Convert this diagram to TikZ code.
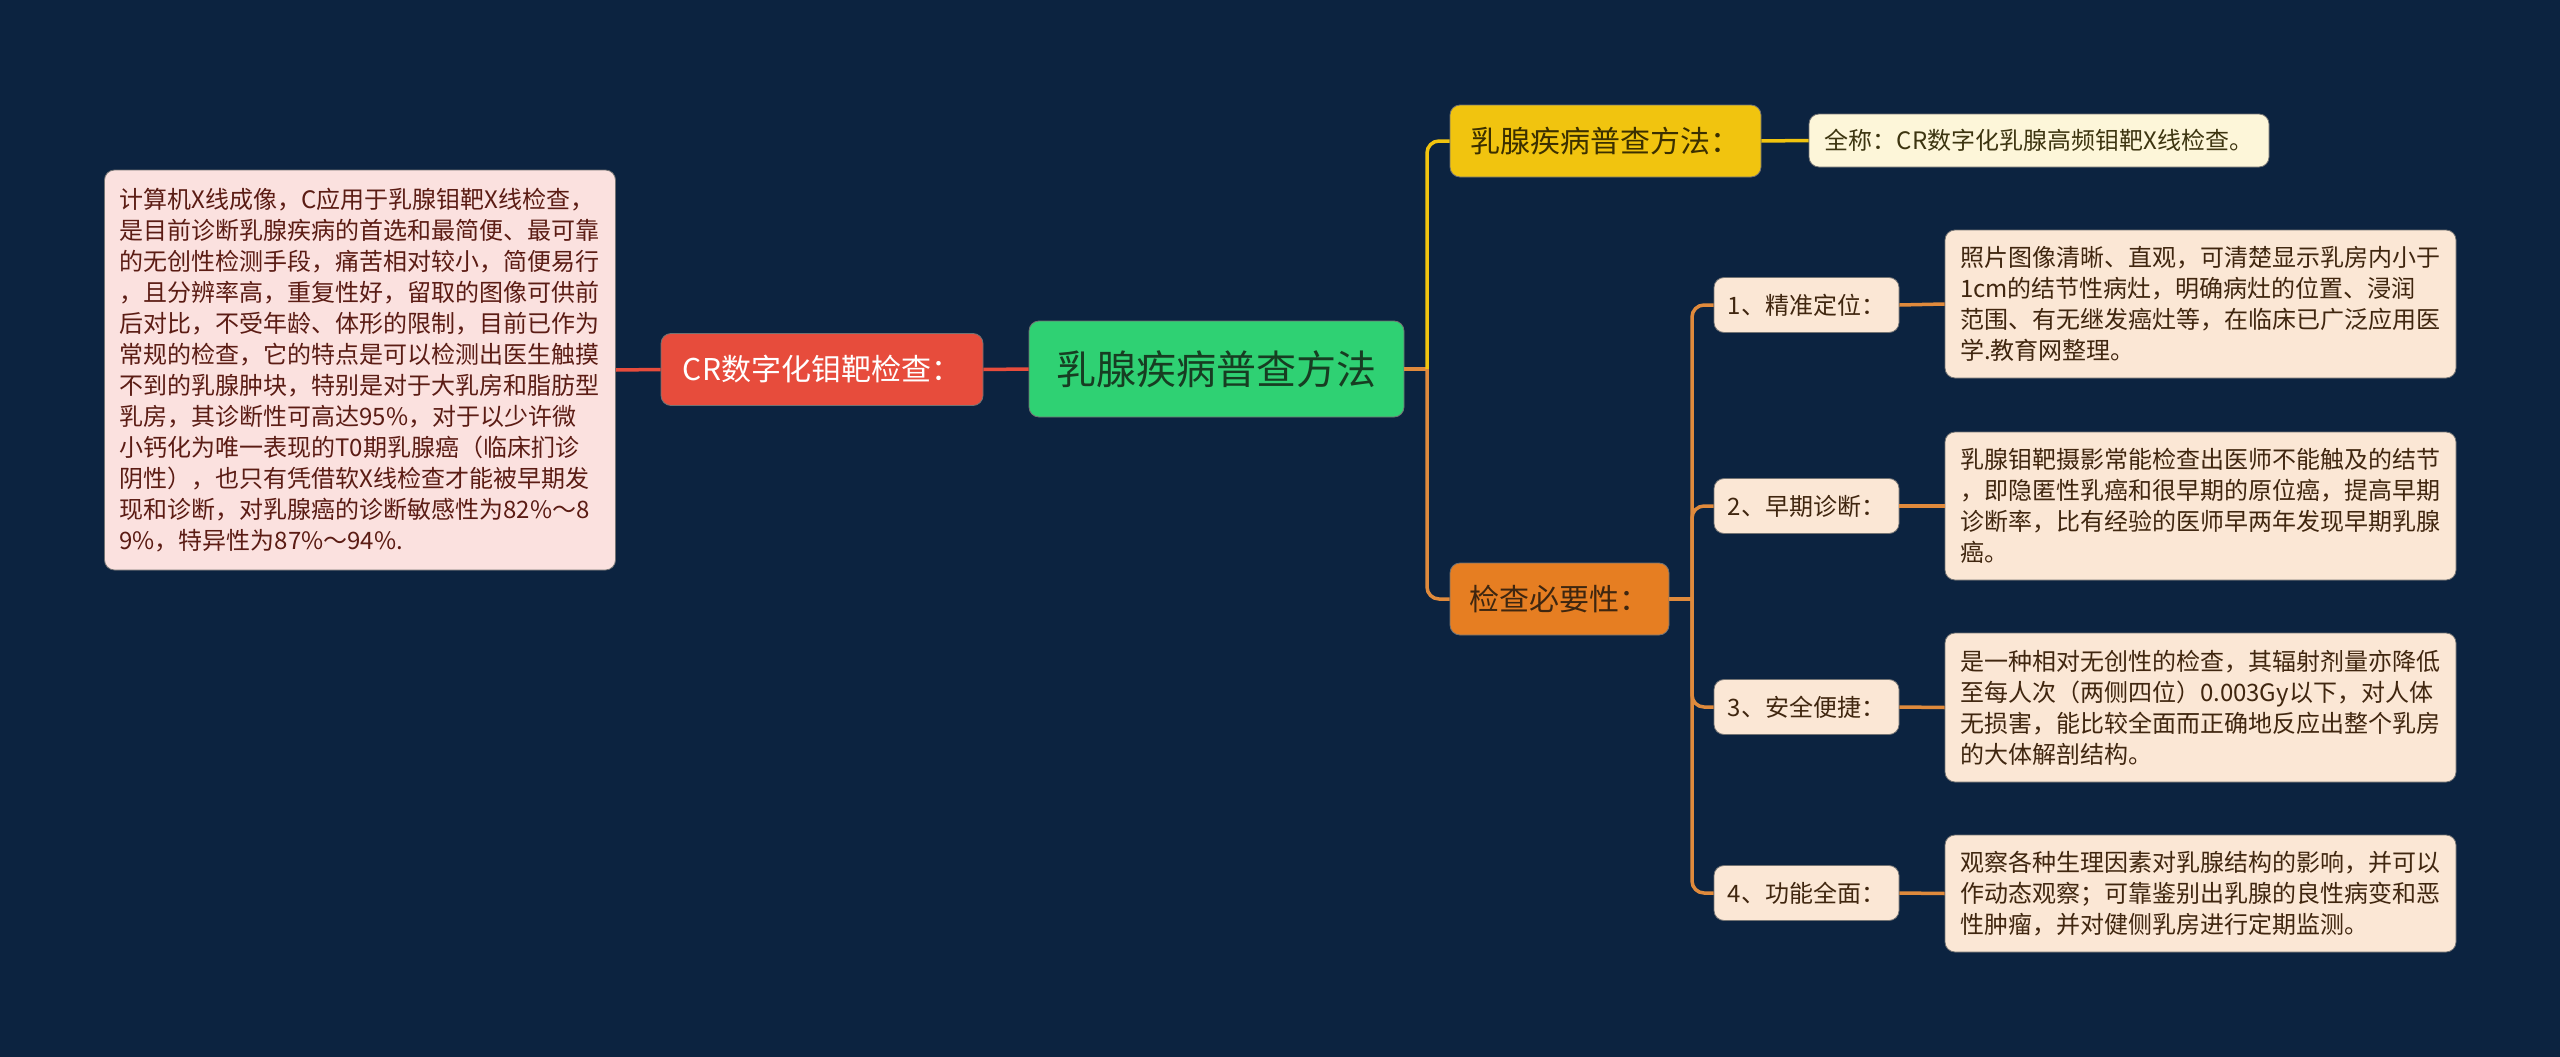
\documentclass[tikz,border=0pt]{standalone}
\usepackage{fontspec}
\setmainfont{Noto Sans CJK SC}
\usetikzlibrary{positioning}
\definecolor{bgnavy}{HTML}{0C2340}
\definecolor{rootgreen}{HTML}{2FD173}
\definecolor{roottext}{HTML}{173D22}
\definecolor{crred}{HTML}{E74C3C}
\definecolor{yelgold}{HTML}{F1C40F}
\definecolor{yeltext}{HTML}{3B2F00}
\definecolor{chkorange}{HTML}{E67E22}
\definecolor{chktext}{HTML}{3E2610}
\definecolor{pinkfill}{HTML}{FBE1DF}
\definecolor{pinktext}{HTML}{5B1C14}
\definecolor{cream}{HTML}{FDF6D9}
\definecolor{creamtext}{HTML}{3D3510}
\definecolor{peach}{HTML}{FBE7D5}
\definecolor{peachtext}{HTML}{40260F}
\definecolor{orangeline}{HTML}{E08A3C}

\begin{document}
\begin{tikzpicture}[x=1pt, y=-1pt,
    box/.style={rounded corners=10pt, draw=black!55, line width=0.8pt, align=center, inner sep=0pt},
    root/.style={box, fill=rootgreen, text=roottext, font=\fontsize{40}{48}\selectfont,
                 minimum width=375pt, minimum height=96pt},
    main/.style={box, font=\fontsize{30}{36}\selectfont, minimum height=72pt},
    item/.style={box, fill=peach, text=peachtext, font=\fontsize{24}{31}\selectfont,
                 minimum width=185pt, minimum height=55pt},
    note/.style={box, font=\fontsize{24}{31}\selectfont, text width=481pt, align=left, inner xsep=15pt},
    link/.style={line width=3.5pt, rounded corners=12pt},
]
    \fill[bgnavy] (0,0) rectangle (2560,1057);
    \useasboundingbox (0,0) rectangle (2560,1057);

    \node[root] (root) at (1216.5,369) {乳腺疾病普查方法};

    \node[main, fill=crred, text=white, minimum width=322pt] (cr) at (822,369.5) {CR数字化钼靶检查：};
    \node[note, fill=pinkfill, text=pinktext, minimum height=400pt] (crnote) at (360,370) {%
        计算机X线成像，C应用于乳腺钼靶X线检查，\\
        是目前诊断乳腺疾病的首选和最简便、最可靠\\
        的无创性检测手段，痛苦相对较小，简便易行\\
        ，且分辨率高，重复性好，留取的图像可供前\\
        后对比，不受年龄、体形的限制，目前已作为\\
        常规的检查，它的特点是可以检测出医生触摸\\
        不到的乳腺肿块，特别是对于大乳房和脂肪型\\
        乳房，其诊断性可高达95\%，对于以少许微\\
        小钙化为唯一表现的T0期乳腺癌（临床扪诊\\
        阴性），也只有凭借软X线检查才能被早期发\\
        现和诊断，对乳腺癌的诊断敏感性为82\%～8\\
        9\%，特异性为87\%～94\%.};

    \node[main, fill=yelgold, text=yeltext, minimum width=311pt] (way) at (1605.5,141) {乳腺疾病普查方法：};
    \node[box, fill=cream, text=creamtext, font=\fontsize{24}{31}\selectfont,
          minimum width=460pt, minimum height=53pt] (wayfull) at (2039,140.5) {全称：CR数字化乳腺高频钼靶X线检查。};

    \node[main, fill=chkorange, text=chktext, minimum width=219pt] (need) at (1559.5,599) {检查必要性：};

    \node[item] (n1) at (1806.5,305) {1、精准定位：};
    \node[item] (n2) at (1806.5,506) {2、早期诊断：};
    \node[item] (n3) at (1806.5,707) {3、安全便捷：};
    \node[item] (n4) at (1806.5,893) {4、功能全面：};

    \node[note, fill=peach, text=peachtext, minimum height=148pt] (d1) at (2200.5,304) {%
        照片图像清晰、直观，可清楚显示乳房内小于\\
        1cm的结节性病灶，明确病灶的位置、浸润\\
        范围、有无继发癌灶等，在临床已广泛应用医\\
        学.教育网整理。};
    \node[note, fill=peach, text=peachtext, minimum height=148pt] (d2) at (2200.5,506) {%
        乳腺钼靶摄影常能检查出医师不能触及的结节\\
        ，即隐匿性乳癌和很早期的原位癌，提高早期\\
        诊断率，比有经验的医师早两年发现早期乳腺\\
        癌。};
    \node[note, fill=peach, text=peachtext, minimum height=149pt] (d3) at (2200.5,707.5) {%
        是一种相对无创性的检查，其辐射剂量亦降低\\
        至每人次（两侧四位）0.003Gy以下，对人体\\
        无损害，能比较全面而正确地反应出整个乳房\\
        的大体解剖结构。};
    \node[note, fill=peach, text=peachtext, minimum height=117pt] (d4) at (2200.5,893.5) {%
        观察各种生理因素对乳腺结构的影响，并可以\\
        作动态观察；可靠鉴别出乳腺的良性病变和恶\\
        性肿瘤，并对健侧乳房进行定期监测。};

    \coordinate (rhub) at (1427,369);
    \coordinate (ohub) at (1692,599);

    \draw[link, draw=crred] (root.west) -- (cr.east);
    \draw[link, draw=crred] (cr.west) -- (crnote.east);
    \draw[link, draw=orangeline] (root.east) -- (rhub);
    \draw[link, draw=yelgold] (rhub) |- (way.west);
    \draw[link, draw=orangeline] (rhub) |- (need.west);
    \draw[link, draw=yelgold] (way.east) -- (wayfull.west);
    \draw[link, draw=orangeline] (need.east) -- (ohub);
    \foreach \i in {1,...,4} {
        \draw[link, draw=orangeline] (ohub) |- (n\i.west);
        \draw[link, draw=orangeline] (n\i.east) -- (d\i.west);
    }
\end{tikzpicture}
\end{document}
